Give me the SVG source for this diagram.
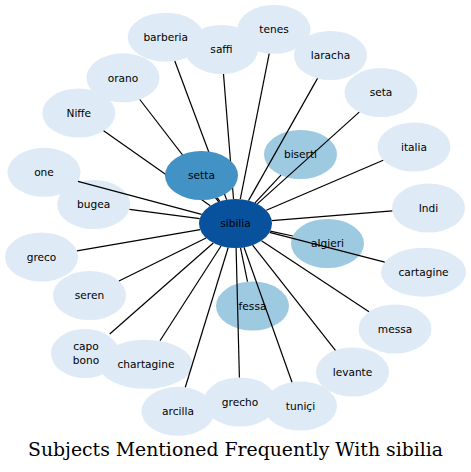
<svg xmlns="http://www.w3.org/2000/svg" width="471" height="472" viewBox="0 0 471 472">
<style>
.l{fill:#deebf7}
.m{fill:#9ecae1}
.s{fill:#4292c6}
.c{fill:#08519c}
text.t{font-family:"DejaVu Sans",sans-serif;font-size:10.6px;fill:#000;text-anchor:middle}
#edges line{stroke:#000;stroke-width:1.2}
.title{font-family:"DejaVu Serif",serif;font-size:18px;fill:#000;text-anchor:middle}
</style>
<rect width="471" height="472" fill="#fff"/>
<g id="n-barberia"><ellipse class="l" cx="165.7" cy="37.2" rx="38" ry="24.5"/><text class="t" x="165.7" y="41">barberia</text></g>
<g id="n-saffi"><ellipse class="l" cx="221.5" cy="49.5" rx="36.5" ry="24.5"/><text class="t" x="221.5" y="53.3">saffi</text></g>
<g id="n-tenes"><ellipse class="l" cx="274" cy="29.3" rx="36.5" ry="24.5"/><text class="t" x="274" y="33.1">tenes</text></g>
<g id="n-laracha"><ellipse class="l" cx="330.5" cy="55.5" rx="36.5" ry="24.5"/><text class="t" x="330.5" y="59.3">laracha</text></g>
<g id="n-orano"><ellipse class="l" cx="123" cy="77.8" rx="36.5" ry="24.5"/><text class="t" x="123" y="81.6">orano</text></g>
<g id="n-seta"><ellipse class="l" cx="381" cy="92.5" rx="36.5" ry="24.5"/><text class="t" x="381" y="96.3">seta</text></g>
<g id="n-Niffe"><ellipse class="l" cx="78.8" cy="113" rx="36.5" ry="24.5"/><text class="t" x="78.8" y="116.8">Niffe</text></g>
<g id="n-italia"><ellipse class="l" cx="414" cy="147" rx="36.5" ry="24.5"/><text class="t" x="414" y="150.8">italia</text></g>
<g id="n-one"><ellipse class="l" cx="44" cy="172.3" rx="36.5" ry="24.5"/><text class="t" x="44" y="176.1">one</text></g>
<g id="n-bugea"><ellipse class="l" cx="93.7" cy="204.5" rx="36.5" ry="24.5"/><text class="t" x="93.7" y="208.3">bugea</text></g>
<g id="n-Indi"><ellipse class="l" cx="428.5" cy="208" rx="36.5" ry="24.5"/><text class="t" x="428.5" y="211.8">Indi</text></g>
<g id="n-greco"><ellipse class="l" cx="41.5" cy="257" rx="36.5" ry="24.5"/><text class="t" x="41.5" y="260.8">greco</text></g>
<g id="n-cartagine"><ellipse class="l" cx="423.5" cy="272.2" rx="42.5" ry="24.5"/><text class="t" x="423.5" y="276">cartagine</text></g>
<g id="n-seren"><ellipse class="l" cx="89.5" cy="295.5" rx="36.5" ry="24.5"/><text class="t" x="89.5" y="299.3">seren</text></g>
<g id="n-messa"><ellipse class="l" cx="395" cy="329" rx="36.5" ry="24.5"/><text class="t" x="395" y="332.8">messa</text></g>
<g id="n-chartagine"><ellipse class="l" cx="145.5" cy="364.3" rx="47" ry="24.5"/><text class="t" x="146" y="368">chartagine</text></g>
<g id="n-capobono"><ellipse class="l" cx="85" cy="353.5" rx="34" ry="24.5"/><text class="t" x="86" y="350.4">capo</text><text class="t" x="86" y="363.6">bono</text></g>
<g id="n-levante"><ellipse class="l" cx="352.5" cy="372" rx="36.5" ry="24.5"/><text class="t" x="352.5" y="375.8">levante</text></g>
<g id="n-arcilla"><ellipse class="l" cx="178" cy="411.3" rx="36.5" ry="24.5"/><text class="t" x="178" y="415.1">arcilla</text></g>
<g id="n-grecho"><ellipse class="l" cx="240" cy="402" rx="36.5" ry="24.5"/><text class="t" x="240" y="405.8">grecho</text></g>
<g id="n-tunici"><ellipse class="l" cx="300.5" cy="406" rx="36.5" ry="24.5"/><text class="t" x="300.5" y="409.8">tuniçi</text></g>
<g id="n-biserti"><ellipse class="m" cx="300.5" cy="154.5" rx="36.5" ry="24.5"/><text class="t" x="300.5" y="158.3">biserti</text></g>
<g id="n-algieri"><ellipse class="m" cx="327.5" cy="243.5" rx="36.5" ry="24.5"/><text class="t" x="327.5" y="247.3">algieri</text></g>
<g id="n-fessa"><ellipse class="m" cx="252.5" cy="306" rx="36.5" ry="24.5"/><text class="t" x="252.5" y="309.8">fessa</text></g>
<g id="edges">
<line x1="226.6" y1="199.7" x2="174.8" y2="61"/>
<line x1="233.5" y1="199" x2="223.5" y2="74"/>
<line x1="240.3" y1="199.2" x2="269.2" y2="53.6"/>
<line x1="248.5" y1="200.6" x2="317.5" y2="78.4"/>
<line x1="257.3" y1="203.9" x2="359.2" y2="112.1"/>
<line x1="266.3" y1="210.3" x2="383.2" y2="160.2"/>
<line x1="271.7" y1="220.6" x2="392.3" y2="210.9"/>
<line x1="269.6" y1="232.3" x2="384.7" y2="262.2"/>
<line x1="270.2" y1="231.1" x2="292.8" y2="236"/>
<line x1="261.5" y1="240.7" x2="369" y2="311.8"/>
<line x1="252.6" y1="245.2" x2="335.4" y2="350.3"/>
<line x1="244" y1="247.3" x2="292" y2="382.2"/>
<line x1="236.1" y1="248" x2="239.4" y2="377.5"/>
<line x1="240.5" y1="247.8" x2="247.5" y2="281.7"/>
<line x1="228.2" y1="247.5" x2="185.3" y2="387.3"/>
<line x1="221" y1="246" x2="160" y2="340.8"/>
<line x1="213.3" y1="243" x2="109.7" y2="334"/>
<line x1="206.1" y1="238" x2="118.9" y2="281"/>
<line x1="200.2" y1="229.6" x2="76.9" y2="250.9"/>
<line x1="199.7" y1="218.7" x2="129.5" y2="209.3"/>
<line x1="201.6" y1="214.4" x2="77.9" y2="181.4"/>
<line x1="210.3" y1="205.8" x2="103.6" y2="130.8"/>
<line x1="218.7" y1="201.8" x2="139.8" y2="99.5"/>
<line x1="255" y1="202.8" x2="281" y2="175.2"/>
<line x1="219.8" y1="201.4" x2="217.2" y2="197.6"/>
</g>
<g id="n-setta"><ellipse class="s" cx="201.5" cy="175.5" rx="36.5" ry="24.5"/><text class="t" x="201.5" y="179.3">setta</text></g>
<g id="n-sibilia"><ellipse class="c" cx="235.5" cy="223.5" rx="36.5" ry="24.5"/><text class="t" x="235.5" y="227.3">sibilia</text></g>
<text class="title" x="235.5" y="456" textLength="415" lengthAdjust="spacingAndGlyphs">Subjects Mentioned Frequently With sibilia</text>
</svg>
